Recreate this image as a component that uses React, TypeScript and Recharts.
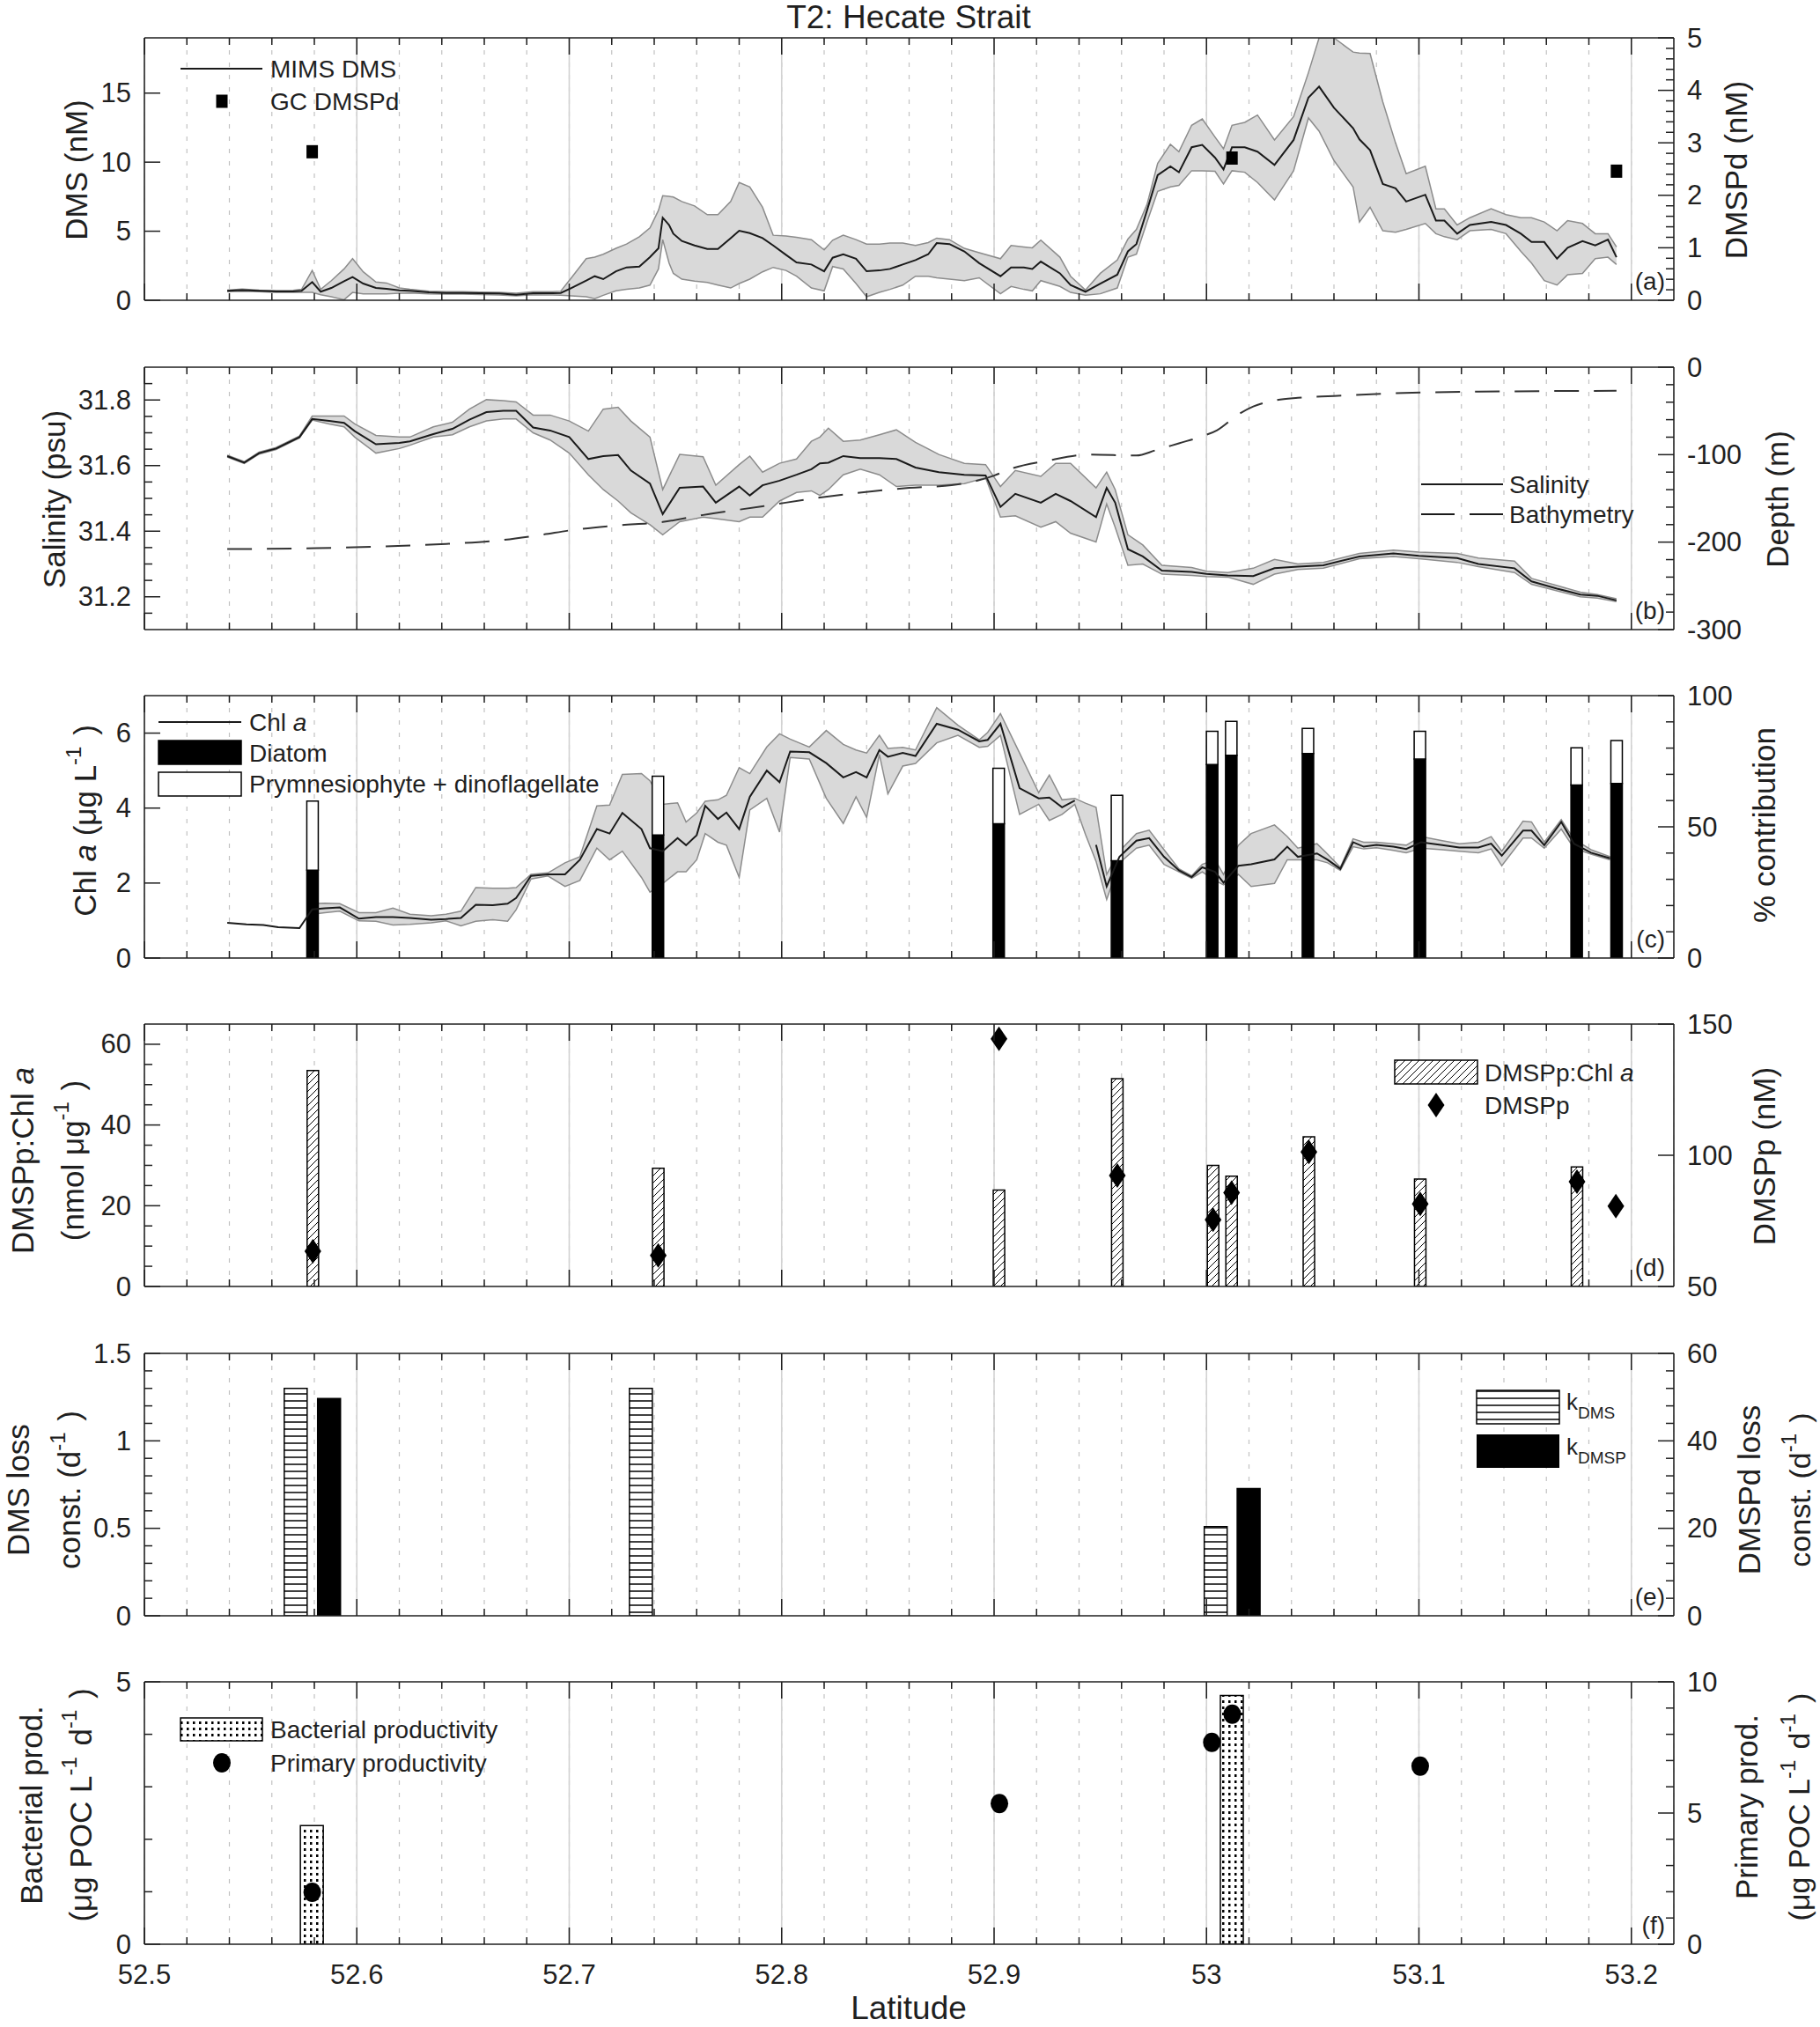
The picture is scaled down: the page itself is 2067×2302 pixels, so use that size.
import React from 'react';
import { ComposedChart, Line, Area, Bar, Scatter, XAxis, YAxis, CartesianGrid } from 'recharts';

const FONT = "'Liberation Sans', Arial, Helvetica, sans-serif";
const INK = '#1f1f1f';
const W = 2067;
const PL = 164;
const PR = 1901;
const PH = 298;
const MT = 30;
const MB = 80;
const TOPS = [43, 417, 790, 1163, 1537, 1910];
const X_DOMAIN: [number, number] = [52.5, 53.22];

// x axis ticks
const xTicks = [52.5, 52.52, 52.54, 52.56, 52.58, 52.6, 52.62, 52.64, 52.66, 52.68, 52.7, 52.72, 52.74, 52.76, 52.78, 52.8, 52.82, 52.84, 52.86, 52.88, 52.9, 52.92, 52.94, 52.96, 52.98, 53, 53.02, 53.04, 53.06, 53.08, 53.1, 53.12, 53.14, 53.16, 53.18, 53.2];
const xMajor = [52.5, 52.6, 52.7, 52.8, 52.9, 53, 53.1, 53.2];

// (a) MIMS DMS with range, GC DMSPd
const aLat = [52.539, 52.546, 52.554, 52.562, 52.570, 52.574, 52.579, 52.583, 52.588, 52.594, 52.598, 52.603, 52.609, 52.614, 52.620, 52.625, 52.634, 52.642, 52.650, 52.658, 52.667, 52.675, 52.683, 52.692, 52.696, 52.701, 52.708, 52.712, 52.716, 52.722, 52.727, 52.733, 52.738, 52.742, 52.744, 52.747, 52.749, 52.753, 52.759, 52.765, 52.770, 52.776, 52.780, 52.785, 52.791, 52.796, 52.802, 52.807, 52.814, 52.820, 52.824, 52.829, 52.835, 52.840, 52.846, 52.851, 52.857,
  52.863, 52.869, 52.873, 52.879, 52.886, 52.893, 52.903, 52.908, 52.914, 52.918, 52.922, 52.931, 52.936, 52.943, 52.950, 52.958, 52.963, 52.967, 52.972, 52.977, 52.983, 52.987, 52.993, 52.998, 53.004, 53.008, 53.012, 53.018, 53.024, 53.032, 53.041, 53.048, 53.053, 53.060, 53.069, 53.072, 53.077, 53.083, 53.089, 53.094, 53.103, 53.108, 53.112, 53.118, 53.124, 53.134, 53.141, 53.148, 53.153, 53.159, 53.165, 53.170, 53.177, 53.183, 53.189, 53.193];
const aDms = [0.68, 0.74, 0.68, 0.64, 0.64, 0.68, 1.32, 0.62, 0.89, 1.38, 1.68, 1.21, 0.89, 0.83, 0.72, 0.68, 0.57, 0.53, 0.53, 0.51, 0.49, 0.40, 0.51, 0.51, 0.53, 0.89, 1.42, 1.74, 1.53, 2.10, 2.38, 2.44, 3.12, 3.76, 5.98, 5.45, 4.82, 4.29, 3.97, 3.71, 3.71, 4.50, 5.03, 4.86, 4.50, 3.97, 3.29, 2.74, 2.59, 2.10, 3.08, 3.33, 3.01, 2.10, 2.16, 2.27, 2.59,
  2.91, 3.33, 4.14, 4.07, 3.54, 2.69, 1.74, 2.38, 2.38, 2.27, 2.80, 1.95, 1.10, 0.62, 1.21, 1.85, 3.54, 4.07, 6.51, 9.06, 9.70, 9.27, 11.08, 11.25, 10.33, 9.48, 11.08, 11.08, 10.76, 9.80, 11.61, 14.68, 15.47, 13.94, 12.46, 11.65, 10.86, 8.42, 8.11, 7.15, 7.64, 5.77, 5.77, 4.82, 5.45, 5.67, 5.45, 4.82, 4.22, 4.22, 3.01, 3.80, 4.29, 3.97, 4.39, 3.12];
const aDmsLo = [0.62, 0.66, 0.62, 0.57, 0.57, 0.57, 0.57, 0.40, 0.25, 0.04, 0.57, 0.47, 0.47, 0.47, 0.51, 0.53, 0.47, 0.45, 0.45, 0.42, 0.38, 0.32, 0.40, 0.38, 0.36, 0.32, 0.25, 0.11, 0.36, 0.68, 0.79, 0.89, 1.10, 2.27, 4.39, 2.69, 1.95, 1.53, 1.38, 1.29, 1.10, 0.89, 1.21, 1.53, 2.06, 2.38, 2.16, 1.74, 0.89, 0.68, 2.44, 2.27, 1.21, 0.25, 0.57, 0.79, 1.10,
  1.74, 1.74, 1.63, 1.53, 1.42, 1.63, 0.47, 1.00, 0.79, 0.68, 1.42, 1.00, 0.57, 0.36, 0.47, 0.89, 3.12, 3.33, 5.67, 7.89, 8.21, 8.32, 9.38, 9.38, 9.34, 8.42, 9.38, 9.27, 8.53, 7.26, 9.38, 13.20, 12.24, 10.12, 8.21, 5.67, 6.73, 5.03, 4.92, 5.13, 5.56, 4.82, 4.60, 4.39, 5.03, 5.13, 4.82, 3.54, 2.69, 1.42, 1.10, 1.85, 1.95, 3.01, 3.12, 2.59];
const aDmsHi = [0.74, 0.81, 0.74, 0.70, 0.72, 0.79, 2.16, 0.79, 1.42, 2.27, 3.01, 2.06, 1.32, 1.25, 0.89, 0.79, 0.66, 0.62, 0.62, 0.59, 0.57, 0.51, 0.62, 0.62, 0.66, 1.63, 3.01, 3.12, 3.33, 3.76, 4.07, 4.60, 5.24, 6.51, 7.57, 7.53, 7.47, 7.15, 6.83, 6.20, 6.20, 7.15, 8.53, 8.21, 6.73, 4.71, 4.65, 4.56, 4.39, 3.65, 4.35, 4.71, 4.39, 4.07, 4.07, 4.14, 4.14,
  3.97, 4.18, 4.50, 4.39, 3.76, 3.44, 3.01, 3.97, 3.86, 3.80, 4.35, 3.12, 1.74, 0.74, 1.95, 2.91, 4.43, 5.13, 6.94, 9.91, 11.29, 10.76, 12.67, 13.13, 11.82, 10.97, 12.67, 12.88, 13.41, 11.61, 13.30, 16.49, 19, 19, 17.97, 17.9, 17.87, 14.36, 11.39, 9.17, 9.70, 6.62, 6.62, 5.45, 5.98, 6.62, 6.20, 5.98, 5.98, 5.67, 5.03, 5.77, 5.56, 4.82, 4.82, 3.86];
const dmspdLat = [52.579, 53.012, 53.193];
const dmspdVal = [2.83, 2.71, 2.46];

// (b) salinity with range, bathymetry
const bLat = [52.539, 52.547, 52.554, 52.562, 52.573, 52.579, 52.587, 52.594, 52.599, 52.609, 52.620, 52.625, 52.636, 52.645, 52.653, 52.661, 52.669, 52.675, 52.683, 52.691, 52.700, 52.709, 52.716, 52.723, 52.729, 52.738, 52.744, 52.752, 52.763, 52.769, 52.780, 52.785, 52.791, 52.799, 52.807, 52.814, 52.818, 52.822, 52.829, 52.837, 52.846, 52.854,
  52.863, 52.874, 52.886, 52.896, 52.903, 52.910, 52.922, 52.929, 52.936, 52.948, 52.953, 52.957, 52.963, 52.970, 52.979, 52.993, 53.000, 53.010, 53.022, 53.032, 53.043, 53.055, 53.072, 53.088, 53.100, 53.118, 53.128, 53.145, 53.153, 53.165, 53.176, 53.184, 53.193];
const bSal = [31.629, 31.609, 31.638, 31.652, 31.687, 31.742, 31.736, 31.730, 31.705, 31.665, 31.669, 31.674, 31.696, 31.712, 31.740, 31.763, 31.767, 31.767, 31.716, 31.707, 31.687, 31.620, 31.629, 31.632, 31.585, 31.545, 31.452, 31.532, 31.536, 31.487, 31.536, 31.509, 31.540, 31.554, 31.572, 31.589, 31.607, 31.609, 31.629, 31.623, 31.623, 31.620,
  31.594, 31.580, 31.572, 31.570, 31.474, 31.514, 31.487, 31.514, 31.492, 31.443, 31.532, 31.487, 31.345, 31.323, 31.280, 31.276, 31.270, 31.265, 31.263, 31.287, 31.292, 31.296, 31.323, 31.332, 31.325, 31.318, 31.300, 31.287, 31.247, 31.225, 31.207, 31.203, 31.189];
const bSalLo = [31.626, 31.606, 31.635, 31.649, 31.684, 31.739, 31.727, 31.718, 31.687, 31.638, 31.652, 31.662, 31.687, 31.694, 31.718, 31.736, 31.742, 31.742, 31.700, 31.678, 31.638, 31.572, 31.527, 31.492, 31.456, 31.420, 31.389, 31.429, 31.443, 31.438, 31.429, 31.443, 31.443, 31.492, 31.518, 31.523, 31.509, 31.527, 31.572, 31.589, 31.572, 31.536,
  31.540, 31.540, 31.545, 31.563, 31.443, 31.447, 31.412, 31.429, 31.394, 31.367, 31.483, 31.412, 31.296, 31.300, 31.269, 31.265, 31.262, 31.260, 31.238, 31.269, 31.283, 31.287, 31.316, 31.323, 31.316, 31.305, 31.292, 31.274, 31.238, 31.218, 31.200, 31.196, 31.185];
const bSalHi = [31.632, 31.612, 31.641, 31.655, 31.690, 31.751, 31.751, 31.751, 31.727, 31.692, 31.687, 31.687, 31.718, 31.732, 31.772, 31.801, 31.798, 31.794, 31.754, 31.754, 31.736, 31.705, 31.772, 31.778, 31.736, 31.687, 31.527, 31.634, 31.627, 31.540, 31.603, 31.629, 31.580, 31.607, 31.620, 31.674, 31.687, 31.714, 31.674, 31.678, 31.694, 31.709,
  31.671, 31.634, 31.607, 31.603, 31.536, 31.585, 31.567, 31.607, 31.607, 31.532, 31.580, 31.527, 31.389, 31.358, 31.296, 31.289, 31.278, 31.274, 31.287, 31.314, 31.300, 31.305, 31.332, 31.342, 31.336, 31.332, 31.318, 31.309, 31.256, 31.234, 31.214, 31.207, 31.194];
const bathLat = [52.539, 52.581, 52.612, 52.642, 52.667, 52.686, 52.702, 52.722, 52.744, 52.763, 52.791, 52.818, 52.860, 52.880, 52.900, 52.907, 52.925, 52.945, 52.967, 52.976, 52.987, 52.998, 53.005, 53.015, 53.022, 53.032, 53.043, 53.060, 53.086, 53.128, 53.193];
const bathDepth = [-208, -207, -205, -202, -198, -192, -186, -181, -177, -169, -159, -149, -138, -135, -124, -117, -107, -100, -101, -95, -87, -79, -72, -54, -45, -38, -35, -33, -30, -28, -27];

// (c) Chl a with range, pigment contributions
const cLat = [52.539, 52.548, 52.556, 52.563, 52.573, 52.579, 52.585, 52.592, 52.601, 52.609, 52.617, 52.625, 52.635, 52.642, 52.649, 52.656, 52.664, 52.671, 52.675, 52.682, 52.690, 52.698, 52.705, 52.713, 52.719, 52.725, 52.734, 52.738, 52.744, 52.751, 52.755, 52.760, 52.764, 52.770, 52.774, 52.780, 52.785, 52.793, 52.799, 52.804, 52.813, 52.821, 52.829, 52.835, 52.840, 52.846, 52.850, 52.857,
  52.863, 52.873, 52.883, 52.893, 52.897, 52.903, 52.912, 52.921, 52.926, 52.932, 52.938, 52.943, 52.948, 52.953, 52.959, 52.967, 52.973, 52.980, 52.987, 52.993, 52.998, 53.004, 53.008, 53.015, 53.021, 53.032, 53.038, 53.043, 53.052, 53.057, 53.063, 53.069, 53.074, 53.080, 53.088, 53.094, 53.101, 53.111, 53.119, 53.128, 53.134, 53.139, 53.149, 53.153, 53.159, 53.167, 53.173, 53.181, 53.190];
const cChl = [0.94, 0.90, 0.88, 0.82, 0.80, 1.30, 1.33, 1.35, 1.05, 1.09, 1.09, 1.07, 1.02, 1.04, 1.07, 1.42, 1.41, 1.45, 1.60, 2.19, 2.23, 2.23, 2.62, 3.44, 3.32, 3.87, 3.44, 2.93, 2.85, 3.20, 3.01, 3.28, 4.06, 3.71, 3.88, 3.44, 4.30, 5.00, 4.69, 5.51, 5.49, 5.20, 4.82, 4.96, 4.82, 5.55, 5.37, 5.47,
  5.39, 6.25, 6.09, 5.78, 5.82, 6.25, 4.53, 4.26, 4.28, 4.02, 4.20, null, 3.02, 1.91, 2.70, 3.13, 3.20, 2.70, 2.34, 2.16, 2.42, 2.30, 2.01, 2.46, 2.50, 2.63, 2.97, 2.70, 2.79, 2.62, 2.38, 3.09, 2.97, 3.02, 2.97, 2.91, 3.09, 3.01, 2.95, 2.95, 3.05, 2.73, 3.40, 3.40, 3.01, 3.63, 3.05, 2.81, 2.66];
const cChlLo = [null, null, null, null, null, 1.17, 1.21, 1.25, 0.99, 0.98, 0.88, 0.90, 0.94, 0.99, 0.86, 0.98, 1.02, 0.98, 1.29, 2.11, 2.19, 1.91, 2.07, 2.93, 2.62, 2.85, 2.15, 1.76, 1.99, 2.30, 2.30, 2.62, 3.32, 3.09, 3.01, 2.15, 3.95, 4.26, 3.36, 5.35, 5.31, 4.26, 3.59, 4.30, 3.75, 5.43, 4.38, 5.12,
  5.19, 5.74, 5.94, 5.62, 5.65, 5.94, 3.83, 4.10, 3.67, 3.83, 4.10, 3.30, 2.58, 1.56, 2.54, 2.93, 3.01, 2.50, 2.30, 2.13, 2.30, 2.07, 1.95, 2.23, 1.91, 1.99, 2.62, 2.62, 2.62, 2.54, 2.34, 2.97, 2.91, 2.94, 2.87, 2.81, 2.93, 2.89, 2.85, 2.81, 2.91, 2.46, 3.20, 3.20, 2.93, 3.44, 2.93, 2.77, 2.62];
const cChlHi = [null, null, null, null, null, 1.45, 1.46, 1.45, 1.21, 1.21, 1.33, 1.17, 1.13, 1.17, 1.25, 1.88, 1.86, 1.86, 1.88, 2.23, 2.27, 2.54, 2.70, 4.06, 4.08, 4.90, 4.92, 4.73, 4.10, 4.14, 3.63, 3.87, 4.18, 4.22, 4.34, 5.08, 4.92, 5.63, 5.98, 5.84, 5.63, 6.07, 5.70, 5.55, 5.47, 5.94, 5.59, 5.62,
  5.55, 6.68, 6.21, 5.82, 6.02, 6.52, 5.47, 4.41, 4.88, 4.22, 4.26, 4.13, 4.02, 2.23, 2.85, 3.32, 3.41, 2.89, 2.38, 2.19, 2.50, 2.62, 2.23, 3.01, 3.32, 3.55, 3.24, 2.93, 3.05, 2.77, 2.42, 3.18, 3.09, 3.09, 3.05, 3.01, 3.24, 3.13, 3.05, 3.09, 3.24, 2.85, 3.65, 3.63, 3.09, 3.69, 3.17, 2.89, 2.70];
const pigLat = [52.5793, 52.7419, 52.9023, 52.958, 53.0028, 53.0118, 53.0479, 53.1006, 53.1744, 53.1932];
const pigDiatom = [33.5, 46.9, 51.2, 37.1, 73.7, 77.3, 77.9, 75.8, 65.9, 66.5];
const pigTotal = [59.8, 69.3, 72.3, 62.0, 86.4, 90.2, 87.5, 86.4, 80.1, 82.9];

// (d) DMSPp:Chl a ratio and DMSPp
const ratioLat = [52.5793, 52.7419, 52.9023, 52.958, 53.0031, 53.0118, 53.0482, 53.1006, 53.1744];
const ratioVal = [53.5, 29.3, 23.9, 51.5, 30.0, 27.3, 37.1, 26.6, 29.6];
const dmsppLat = [52.5793, 52.7419, 52.9023, 52.958, 53.0031, 53.0118, 53.0482, 53.1006, 53.1744, 53.1927];
const dmsppVal = [63.4, 61.8, 144.4, 92.3, 75.4, 85.7, 101.3, 81.5, 89.9, 80.6];

// (e) loss rate constants
const kdmsLat = [52.5711, 52.7336, 53.0042];
const kdmsVal = [1.3, 1.3, 0.51];
const kdmspLat = [52.5868, 53.0197];
const kdmspVal = [49.7, 29.1];

// (f) productivity
const bpLat = [52.579, 53.0121];
const bpVal = [2.26, 4.74];
const ppLat = [52.579, 52.9025, 53.0025, 53.0121, 53.1006];
const ppVal = [1.98, 5.36, 7.69, 8.77, 6.79];

// y ticks
const aLeftTicks = [0, 5, 10, 15];
const aLeftLabels = [0, 5, 10, 15];
const aRightTicks = [0, 0.2, 0.4, 0.6, 0.8, 1, 1.2, 1.4, 1.6, 1.8, 2, 2.2, 2.4, 2.6, 2.8, 3, 3.2, 3.4, 3.6, 3.8, 4, 4.2, 4.4, 4.6, 4.8, 5];
const aRightLabels = [0, 1, 2, 3, 4, 5];
const bLeftTicks = [31.15, 31.2, 31.25, 31.3, 31.35, 31.4, 31.45, 31.5, 31.55, 31.6, 31.65, 31.7, 31.75, 31.8, 31.85];
const bLeftLabels = [31.2, 31.4, 31.6, 31.8];
const bRightTicks = [0, -20, -40, -60, -80, -100, -120, -140, -160, -180, -200, -220, -240, -260, -280, -300];
const bRightLabels = [0, -100, -200, -300];
const cLeftTicks = [0, 2, 4, 6];
const cRightTicks = [0, 10, 20, 30, 40, 50, 60, 70, 80, 90, 100];
const cRightLabels = [0, 50, 100];
const dLeftTicks = [0, 5, 10, 15, 20, 25, 30, 35, 40, 45, 50, 55, 60];
const dLeftLabels = [0, 20, 40, 60];
const dRightTicks = [50, 100, 150];
const eLeftTicks = [0, 0.1, 0.2, 0.3, 0.4, 0.5, 0.6, 0.7, 0.8, 0.9, 1, 1.1, 1.2, 1.3, 1.4, 1.5];
const eLeftLabels = [0, 0.5, 1, 1.5];
const eRightTicks = [0, 4, 8, 12, 16, 20, 24, 28, 32, 36, 40, 44, 48, 52, 56, 60];
const eRightLabels = [0, 20, 40, 60];
const fLeftTicks = [0, 1, 2, 3, 4, 5];
const fLeftLabels = [0, 5];
const fRightTicks = [0, 1, 2, 3, 4, 5, 6, 7, 8, 9, 10];
const fRightLabels = [0, 5, 10];

const isIn = (arr: number[], v: number) => arr.some((a) => Math.abs(a - v) < 1e-6);
const fmt = (v: number) => String(parseFloat(v.toFixed(3)));

const aRows = aLat.map((lat, i) => ({ lat, mid: aDms[i], band: [aDmsLo[i], aDmsHi[i]] }));
const dmspdRows = dmspdLat.map((lat, i) => ({ lat, v: dmspdVal[i] }));
const bRows = bLat.map((lat, i) => ({ lat, mid: bSal[i], band: [bSalLo[i], bSalHi[i]] }));
const bathRows = bathLat.map((lat, i) => ({ lat, depth: bathDepth[i] }));
const cRows = cLat.map((lat, i) => ({ lat, mid: cChl[i], band: cChlLo[i] == null ? null : [cChlLo[i], cChlHi[i]] }));
const pigRows = pigLat.map((lat, i) => ({ lat, diatom: pigDiatom[i], other: +(pigTotal[i] - pigDiatom[i]).toFixed(1) }));
const ratioRows = ratioLat.map((lat, i) => ({ lat, ratio: ratioVal[i] }));
const dmsppRows = dmsppLat.map((lat, i) => ({ lat, v: dmsppVal[i] }));
const kRows = [
  ...kdmsLat.map((lat, i) => ({ lat, kdms: kdmsVal[i] })),
  ...kdmspLat.map((lat, i) => ({ lat, kdmsp: kdmspVal[i] })),
];
const bpRows = bpLat.map((lat, i) => ({ lat, bp: bpVal[i] }));
const ppRows = ppLat.map((lat, i) => ({ lat, v: ppVal[i] }));

function xTick(orient: 'top' | 'bottom', labels: boolean) {
  return (p: any) => {
    const v = p.payload.value;
    const major = isIn(xMajor, v);
    const len = major ? 19 : 8;
    const d = orient === 'top' ? 1 : -1;
    return (
      <g>
        <line x1={p.x} x2={p.x} y1={p.y} y2={p.y + d * len} stroke={INK} strokeWidth={1.5} />
        {labels && major ? (
          <text x={p.x} y={p.y + 45} textAnchor="middle" fontSize={31} fontFamily={FONT} fill={INK}>
            {fmt(v)}
          </text>
        ) : null}
      </g>
    );
  };
}

function yTick(side: 'l' | 'r', labels: number[]) {
  return (p: any) => {
    const v = p.payload.value;
    const lab = isIn(labels, v);
    const len = lab ? 18 : 9;
    const d = side === 'l' ? 1 : -1;
    return (
      <g>
        <line x1={p.x} x2={p.x + d * len} y1={p.y} y2={p.y} stroke={INK} strokeWidth={1.5} />
        {lab ? (
          <text x={p.x - d * 15} y={p.y} textAnchor={side === 'l' ? 'end' : 'start'} dominantBaseline="central" fontSize={31} fontFamily={FONT} fill={INK}>
            {fmt(v)}
          </text>
        ) : null}
      </g>
    );
  };
}

const noTick = () => <g />;

type AxisCfg = { domain: [number, number]; ticks: number[]; labels: number[] };

function Panel({ top, data, yl, yr, last, children }: { top: number; data: any[]; yl: AxisCfg; yr: AxisCfg; last?: boolean; children: React.ReactNode }) {
  const axisLine = { stroke: INK, strokeWidth: 1.5 };
  return (
    <div style={{ position: 'absolute', left: 0, top: top - MT }}>
      <ComposedChart width={W} height={MT + PH + MB} data={data} margin={{ top: MT - 1, right: W - PR - 1, bottom: MB - 1, left: PL - 1 }}>
        <CartesianGrid xAxisId="b" yAxisId="l" horizontal={false} stroke="#c2c2c2" strokeDasharray="5 9" strokeWidth={1.2} />
        <CartesianGrid xAxisId="g" yAxisId="l" horizontal={false} stroke="#d2d2d2" strokeWidth={1.6} />
        <XAxis xAxisId="b" type="number" dataKey="lat" domain={X_DOMAIN} allowDataOverflow ticks={xTicks} interval={0} height={1} tickSize={0} tickMargin={0} tickLine={false} axisLine={axisLine} tick={xTick('bottom', !!last)} />
        <XAxis xAxisId="t" orientation="top" type="number" dataKey="lat" domain={X_DOMAIN} allowDataOverflow ticks={xTicks} interval={0} height={1} tickSize={0} tickMargin={0} tickLine={false} axisLine={axisLine} tick={xTick('top', false)} />
        <XAxis xAxisId="g" orientation="top" type="number" dataKey="lat" domain={X_DOMAIN} allowDataOverflow ticks={xMajor} interval={0} height={0} tickSize={0} tickLine={false} axisLine={false} tick={noTick} />
        <XAxis xAxisId="bar" type="number" dataKey="lat" domain={X_DOMAIN} allowDataOverflow hide />
        <XAxis xAxisId="bar2" type="number" dataKey="lat" domain={X_DOMAIN} allowDataOverflow hide />
        <YAxis yAxisId="l" type="number" domain={yl.domain} allowDataOverflow ticks={yl.ticks} interval={0} width={1} tickSize={0} tickMargin={0} tickLine={false} axisLine={axisLine} tick={yTick('l', yl.labels)} />
        <YAxis yAxisId="r" orientation="right" type="number" domain={yr.domain} allowDataOverflow ticks={yr.ticks} interval={0} width={1} tickSize={0} tickMargin={0} tickLine={false} axisLine={axisLine} tick={yTick('r', yr.labels)} />
        {children}
      </ComposedChart>
    </div>
  );
}

const squareShape = (p: any) => <rect x={p.cx - 6.5} y={p.cy - 7.5} width={13} height={15} fill="#000" />;
const diamondShape = (p: any) => (
  <polygon points={`${p.cx},${p.cy - 14} ${p.cx + 9.5},${p.cy} ${p.cx},${p.cy + 14} ${p.cx - 9.5},${p.cy}`} fill="#000" />
);
const circleShape = (p: any) => <ellipse cx={p.cx} cy={p.cy} rx={10} ry={11} fill="#000" />;

const BAND_FILL = '#d9d9d9';
const BAND_EDGE = '#8c8c8c';
const LINE = '#1a1a1a';

const Rot = ({ x, y, size = 35, children }: any) => (
  <text transform={`translate(${x},${y}) rotate(-90)`} textAnchor="middle" dominantBaseline="central" fontSize={size} fontFamily={FONT} fill={INK}>
    {children}
  </text>
);
const Sup = ({ t }: { t: string }) => (
  <>
    <tspan dy={-13} fontSize={24}>{t}</tspan>
    <tspan dy={13}>{'\u200a'}</tspan>
  </>
);
const Leg = ({ x, y, children, size = 28 }: any) => (
  <text x={x} y={y} dominantBaseline="central" fontSize={size} fontFamily={FONT} fill={INK}>
    {children}
  </text>
);

function Overlay() {
  const bottoms = TOPS.map((t) => t + PH);
  const letters = ['(a)', '(b)', '(c)', '(d)', '(e)', '(f)'];
  return (
    <svg width={W} height={2302} style={{ position: 'absolute', left: 0, top: 0, pointerEvents: 'none' }}>
      <defs>
        <pattern id="hatch" patternUnits="userSpaceOnUse" width={8} height={8}>
          <rect width={8} height={8} fill="#fff" />
          <path d="M-2,2 L2,-2 M0,8 L8,0 M6,10 L10,6" stroke="#000" strokeWidth={1} />
        </pattern>
        <pattern id="hstripe" patternUnits="userSpaceOnUse" width={8} height={8}>
          <rect width={8} height={8} fill="#fff" />
          <line x1={0} x2={8} y1={4} y2={4} stroke="#000" strokeWidth={1.5} />
        </pattern>
        <pattern id="dots" patternUnits="userSpaceOnUse" width={7} height={7}>
          <rect width={7} height={7} fill="#fff" />
          <rect x={2} y={2} width={2.5} height={3} fill="#000" />
        </pattern>
      </defs>

      <text x={1032} y={32} textAnchor="middle" fontSize={37} fontFamily={FONT} fill={INK}>T2: Hecate Strait</text>
      <text x={1032} y={2293} textAnchor="middle" fontSize={37} fontFamily={FONT} fill={INK}>Latitude</text>

      {letters.map((l, i) => (
        <text key={l} x={1891} y={bottoms[i] - 12} textAnchor="end" fontSize={28} fontFamily={FONT} fill={INK}>{l}</text>
      ))}

      {/* y labels */}
      <Rot x={86} y={193}>DMS (nM)</Rot>
      <Rot x={1971} y={193}>DMSPd (nM)</Rot>
      <Rot x={61} y={567}>Salinity (psu)</Rot>
      <Rot x={2018} y={567}>Depth (m)</Rot>
      <Rot x={96} y={932}>
        Chl <tspan fontStyle="italic">a</tspan> (μg L<Sup t="-1" /> )
      </Rot>
      <Rot x={2003} y={937}>% contribution</Rot>
      <Rot x={25} y={1318}>
        DMSPp:Chl <tspan fontStyle="italic">a</tspan>
      </Rot>
      <Rot x={82} y={1318}>
        (nmol μg<Sup t="-1" /> )
      </Rot>
      <Rot x={2003} y={1313}>DMSPp (nM)</Rot>
      <Rot x={20} y={1692}>DMS loss</Rot>
      <Rot x={78} y={1692}>
        const. (d<Sup t="-1" /> )
      </Rot>
      <Rot x={1986} y={1692}>DMSPd loss</Rot>
      <Rot x={2044} y={1692} size={34}>
        const. (d<Sup t="-1" /> )
      </Rot>
      <Rot x={35} y={2050}>Bacterial prod.</Rot>
      <Rot x={91} y={2050}>
        (μg POC L<Sup t="-1" /> d<Sup t="-1" /> )
      </Rot>
      <Rot x={1983} y={2052}>Primary prod.</Rot>
      <Rot x={2043} y={2052} size={34}>
        (μg POC L<Sup t="-1" /> d<Sup t="-1" /> )
      </Rot>

      {/* legend (a) */}
      <line x1={205} x2={298} y1={78} y2={78} stroke={LINE} strokeWidth={2} />
      <Leg x={307} y={78}>MIMS DMS</Leg>
      <rect x={245.5} y={107.5} width={13} height={15} fill="#000" />
      <Leg x={307} y={115}>GC DMSPd</Leg>

      {/* legend (b) */}
      <line x1={1614} x2={1707} y1={550} y2={550} stroke={LINE} strokeWidth={2} />
      <Leg x={1714} y={550}>Salinity</Leg>
      <line x1={1614} x2={1707} y1={584} y2={584} stroke={LINE} strokeWidth={2} strokeDasharray="38 17" />
      <Leg x={1714} y={584}>Bathymetry</Leg>

      {/* legend (c) */}
      <line x1={180} x2={274} y1={820} y2={820} stroke={LINE} strokeWidth={2} />
      <Leg x={283} y={820}>
        Chl <tspan fontStyle="italic">a</tspan>
      </Leg>
      <rect x={180} y={841} width={94} height={27} fill="#000" stroke="#000" strokeWidth={1.5} />
      <Leg x={283} y={855}>Diatom</Leg>
      <rect x={180} y={877} width={94} height={27} fill="#fff" stroke="#000" strokeWidth={1.5} />
      <Leg x={283} y={890}>Prymnesiophyte + dinoflagellate</Leg>

      {/* legend (d) */}
      <rect x={1584} y={1204} width={94} height={27} fill="url(#hatch)" stroke="#000" strokeWidth={1.5} />
      <Leg x={1686} y={1218}>
        DMSPp:Chl <tspan fontStyle="italic">a</tspan>
      </Leg>
      <polygon points="1631,1241 1640.5,1255 1631,1269 1621.5,1255" fill="#000" />
      <Leg x={1686} y={1255}>DMSPp</Leg>

      {/* legend (e) */}
      <rect x={1677} y={1579} width={94} height={38} fill="url(#hstripe)" stroke="#000" strokeWidth={1.5} />
      <Leg x={1779} y={1592} size={26}>
        k<tspan dy={12} fontSize={19}>DMS</tspan>
      </Leg>
      <rect x={1677} y={1629} width={94} height={38} fill="#000" />
      <Leg x={1779} y={1643} size={26}>
        k<tspan dy={12} fontSize={19}>DMSP</tspan>
      </Leg>

      {/* legend (f) */}
      <rect x={205} y={1951} width={93} height={26} fill="url(#dots)" stroke="#000" strokeWidth={1.5} />
      <Leg x={307} y={1964}>Bacterial productivity</Leg>
      <ellipse cx={252} cy={2002} rx={10} ry={11} fill="#000" />
      <Leg x={307} y={2002}>Primary productivity</Leg>
    </svg>
  );
}

export default function App() {
  return (
    <div style={{ position: 'absolute', left: 0, top: 0, width: W, height: 2302, background: '#fff', fontFamily: FONT, overflow: 'hidden' }}>
      <Panel top={TOPS[0]} data={[]} yl={{ domain: [0, 19], ticks: aLeftTicks, labels: aLeftLabels }} yr={{ domain: [0, 5], ticks: aRightTicks, labels: aRightLabels }}>
        <Area xAxisId="b" yAxisId="l" data={aRows} dataKey="band" type="linear" stroke={BAND_EDGE} strokeWidth={1.5} fill={BAND_FILL} fillOpacity={1} isAnimationActive={false} />
        <Line xAxisId="b" yAxisId="l" data={aRows} dataKey="mid" type="linear" stroke={LINE} strokeWidth={2} dot={false} isAnimationActive={false} />
        <Scatter xAxisId="b" yAxisId="r" data={dmspdRows} dataKey="v" shape={squareShape} isAnimationActive={false} />
      </Panel>

      <Panel top={TOPS[1]} data={[]} yl={{ domain: [31.1, 31.9], ticks: bLeftTicks, labels: bLeftLabels }} yr={{ domain: [-300, 0], ticks: bRightTicks, labels: bRightLabels }}>
        <Area xAxisId="b" yAxisId="l" data={bRows} dataKey="band" type="linear" stroke={BAND_EDGE} strokeWidth={1.5} fill={BAND_FILL} fillOpacity={1} isAnimationActive={false} />
        <Line xAxisId="b" yAxisId="l" data={bRows} dataKey="mid" type="linear" stroke={LINE} strokeWidth={2} dot={false} isAnimationActive={false} />
        <Line xAxisId="b" yAxisId="r" data={bathRows} dataKey="depth" type="monotone" stroke="#333" strokeWidth={2} strokeDasharray="28 17" dot={false} isAnimationActive={false} />
      </Panel>

      <Panel top={TOPS[2]} data={pigRows} yl={{ domain: [0, 7], ticks: cLeftTicks, labels: cLeftTicks }} yr={{ domain: [0, 100], ticks: cRightTicks, labels: cRightLabels }}>
        <Area xAxisId="b" yAxisId="l" data={cRows} dataKey="band" type="linear" stroke={BAND_EDGE} strokeWidth={1.5} fill={BAND_FILL} fillOpacity={1} isAnimationActive={false} />
        <Bar xAxisId="bar" yAxisId="r" dataKey="diatom" stackId="s" fill="#000" stroke="#000" strokeWidth={1.5} barSize={13} isAnimationActive={false} />
        <Bar xAxisId="bar" yAxisId="r" dataKey="other" stackId="s" fill="#fff" stroke="#000" strokeWidth={1.5} barSize={13} isAnimationActive={false} />
        <Line xAxisId="b" yAxisId="l" data={cRows} dataKey="mid" type="linear" stroke={LINE} strokeWidth={2} dot={false} isAnimationActive={false} />
      </Panel>

      <Panel top={TOPS[3]} data={ratioRows} yl={{ domain: [0, 65], ticks: dLeftTicks, labels: dLeftLabels }} yr={{ domain: [50, 150], ticks: dRightTicks, labels: dRightTicks }}>
        <Bar xAxisId="bar" yAxisId="l" dataKey="ratio" fill="url(#hatch)" stroke="#000" strokeWidth={1.5} barSize={13} isAnimationActive={false} />
        <Scatter xAxisId="b" yAxisId="r" data={dmsppRows} dataKey="v" shape={diamondShape} isAnimationActive={false} />
      </Panel>

      <Panel top={TOPS[4]} data={kRows} yl={{ domain: [0, 1.5], ticks: eLeftTicks, labels: eLeftLabels }} yr={{ domain: [0, 60], ticks: eRightTicks, labels: eRightLabels }}>
        <Bar xAxisId="bar" yAxisId="l" dataKey="kdms" fill="url(#hstripe)" stroke="#000" strokeWidth={1.5} barSize={26} isAnimationActive={false} />
        <Bar xAxisId="bar2" yAxisId="r" dataKey="kdmsp" fill="#000" stroke="#000" strokeWidth={1.5} barSize={26} isAnimationActive={false} />
      </Panel>

      <Panel top={TOPS[5]} data={bpRows} last yl={{ domain: [0, 5], ticks: fLeftTicks, labels: fLeftLabels }} yr={{ domain: [0, 10], ticks: fRightTicks, labels: fRightLabels }}>
        <Bar xAxisId="bar" yAxisId="l" dataKey="bp" fill="url(#dots)" stroke="#000" strokeWidth={1.5} barSize={26} isAnimationActive={false} />
        <Scatter xAxisId="b" yAxisId="r" data={ppRows} dataKey="v" shape={circleShape} isAnimationActive={false} />
      </Panel>

      <Overlay />
    </div>
  );
}
